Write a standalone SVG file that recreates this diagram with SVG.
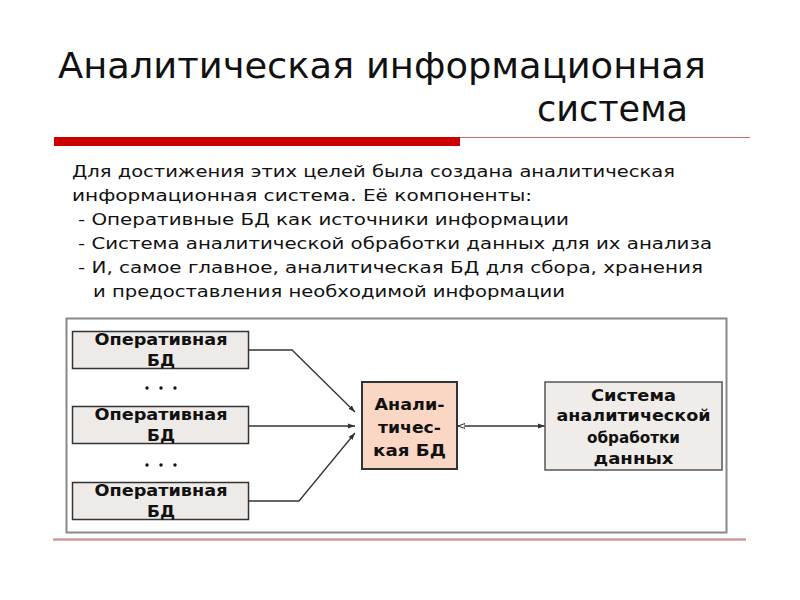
<svg xmlns="http://www.w3.org/2000/svg" width="800" height="600" viewBox="0 0 800 600">
<style>
.title{font-family:"DejaVu Sans Condensed","DejaVu Sans",sans-serif;font-size:35px;fill:#111}
.body text{font-family:"DejaVu Sans","Liberation Sans",sans-serif;font-size:16.5px;fill:#111}
.bx{font-family:"DejaVu Sans","Liberation Sans",sans-serif;font-size:15.5px;font-weight:bold;fill:#111;text-anchor:middle}
.op rect{fill:#eeeae7;stroke:#333;stroke-width:1.5}
.conn{fill:none;stroke:#333;stroke-width:1.3}
.dots circle{fill:#111}
</style>
<defs>
<marker id="ah" markerWidth="8" markerHeight="6" refX="7" refY="3" orient="auto" markerUnits="userSpaceOnUse">
<path d="M0,0.5 L7,3 L0,5.5 Z" fill="#333"/>
</marker>
<marker id="ahs" markerWidth="8" markerHeight="6" refX="7" refY="3" orient="auto-start-reverse" markerUnits="userSpaceOnUse">
<path d="M0,0.5 L7,3 L0,5.5 Z" fill="#fff" stroke="#333" stroke-width="1"/>
</marker>
</defs>
<rect width="800" height="600" fill="#fff"/>
<text class="title" x="58" y="78" textLength="648" lengthAdjust="spacingAndGlyphs">Аналитическая информационная</text>
<text class="title" x="537" y="121" textLength="151" lengthAdjust="spacingAndGlyphs">система</text>
<line x1="457" y1="137.5" x2="750" y2="137.5" stroke="#c86a6a" stroke-width="1"/>
<rect x="54" y="137" width="406" height="9" fill="#cc0000"/>
<g class="body">
<text x="72" y="177" textLength="603" lengthAdjust="spacingAndGlyphs">Для достижения этих целей была создана аналитическая</text>
<text x="72" y="201" textLength="460" lengthAdjust="spacingAndGlyphs">информационная система. Её компоненты:</text>
<text x="78" y="225" textLength="491" lengthAdjust="spacingAndGlyphs">- Оперативные БД как источники информации</text>
<text x="78" y="249" textLength="634" lengthAdjust="spacingAndGlyphs">- Система аналитической обработки данных для их анализа</text>
<text x="78" y="273" textLength="625" lengthAdjust="spacingAndGlyphs">- И, самое главное, аналитическая БД для сбора, хранения</text>
<text x="93" y="297" textLength="472" lengthAdjust="spacingAndGlyphs">и предоставления необходимой информации</text>
</g>
<rect x="66.5" y="318.5" width="660" height="214" fill="none" stroke="#888" stroke-width="2"/>
<line x1="53" y1="539.5" x2="746" y2="539.5" stroke="#d09a9a" stroke-width="2.5"/>
<g id="connectors">
<polyline class="conn" points="249,350 292,350 355,412" marker-end="url(#ah)"/>
<line class="conn" x1="249" y1="426" x2="355" y2="426" marker-end="url(#ah)"/>
<polyline class="conn" points="249,501 299,501 355,433" marker-end="url(#ah)"/>
<line class="conn" x1="458" y1="426" x2="545" y2="426" marker-start="url(#ahs)" marker-end="url(#ah)"/>
</g>
<g id="op1" class="op">
<rect x="72.5" y="331.5" width="176" height="37"/>
<text class="bx" x="161" y="345" textLength="133" lengthAdjust="spacingAndGlyphs">Оперативная</text>
<text class="bx" x="161" y="366" textLength="28" lengthAdjust="spacingAndGlyphs">БД</text>
</g>
<g class="dots"><circle cx="147" cy="388" r="1.7"/><circle cx="161" cy="388" r="1.7"/><circle cx="175" cy="388" r="1.7"/></g>
<g id="op2" class="op">
<rect x="72.5" y="406.5" width="176" height="37"/>
<text class="bx" x="161" y="420" textLength="133" lengthAdjust="spacingAndGlyphs">Оперативная</text>
<text class="bx" x="161" y="441" textLength="28" lengthAdjust="spacingAndGlyphs">БД</text>
</g>
<g class="dots"><circle cx="147" cy="465" r="1.7"/><circle cx="161" cy="465" r="1.7"/><circle cx="175" cy="465" r="1.7"/></g>
<g id="op3" class="op">
<rect x="72.5" y="482.5" width="176" height="37"/>
<text class="bx" x="161" y="496" textLength="133" lengthAdjust="spacingAndGlyphs">Оперативная</text>
<text class="bx" x="161" y="517" textLength="28" lengthAdjust="spacingAndGlyphs">БД</text>
</g>
<g id="anal">
<rect x="362" y="382" width="95" height="87" fill="#fad6c4" stroke="#333" stroke-width="2"/>
<text class="bx" x="409.5" y="410" textLength="70" lengthAdjust="spacingAndGlyphs">Анали-</text>
<text class="bx" x="409.5" y="433" textLength="63" lengthAdjust="spacingAndGlyphs">тичес-</text>
<text class="bx" x="409.5" y="456" textLength="73" lengthAdjust="spacingAndGlyphs">кая БД</text>
</g>
<g id="olap">
<rect x="545" y="382" width="177" height="88" fill="#f0ece9" stroke="#555" stroke-width="1.5"/>
<text class="bx" x="633.5" y="401" textLength="85" lengthAdjust="spacingAndGlyphs">Система</text>
<text class="bx" x="633.5" y="421" textLength="154" lengthAdjust="spacingAndGlyphs">аналитической</text>
<text class="bx" x="633.5" y="443" textLength="93" lengthAdjust="spacingAndGlyphs">обработки</text>
<text class="bx" x="633.5" y="464" textLength="80" lengthAdjust="spacingAndGlyphs">данных</text>
</g>
</svg>
